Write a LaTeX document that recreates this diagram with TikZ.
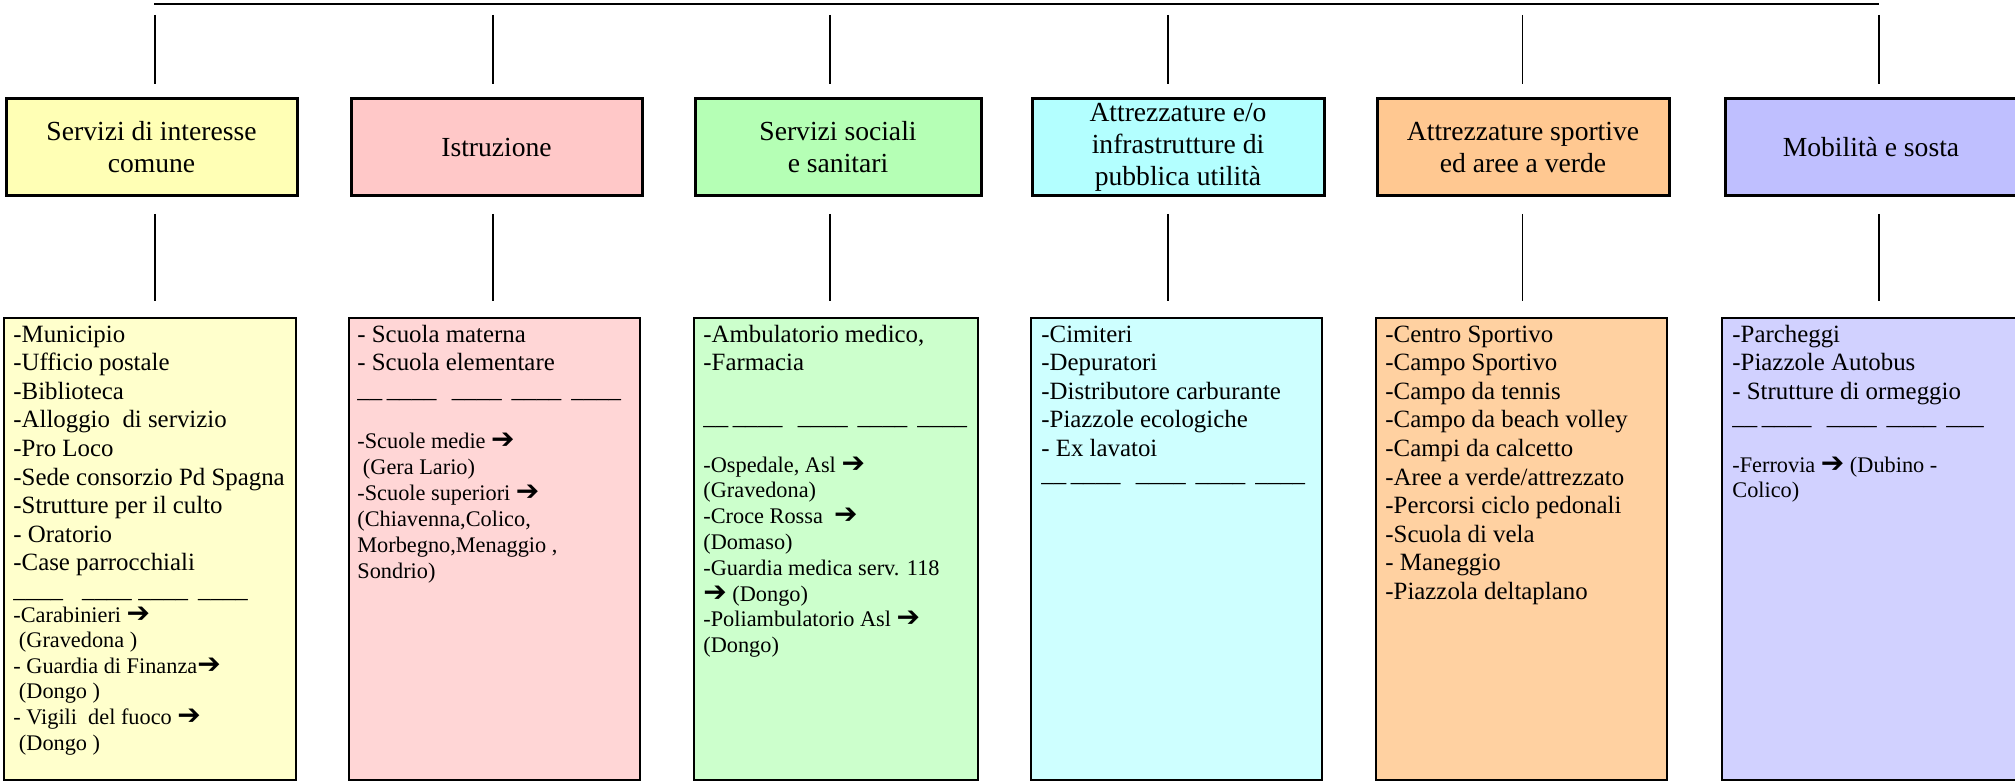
\documentclass[tikz,border=0pt]{standalone}
\usepackage{fontspec}
\setmainfont{Liberation Serif}
\newfontfamily\arrowfont{DejaVu Sans}
\newcommand{\rarr}{{\arrowfont\fontsize{14}{14}\selectfont\char"2794}}
\definecolor{hA}{HTML}{FFFFB5}
\definecolor{cA}{HTML}{FFFFCC}
\definecolor{hB}{HTML}{FFC8C8}
\definecolor{cB}{HTML}{FFD6D6}
\definecolor{hC}{HTML}{B5FFB5}
\definecolor{cC}{HTML}{CCFFCC}
\definecolor{hD}{HTML}{B3FFFF}
\definecolor{cD}{HTML}{CEFFFF}
\definecolor{hE}{HTML}{FFC891}
\definecolor{cE}{HTML}{FFD1A1}
\definecolor{hF}{HTML}{BFBFFF}
\definecolor{cF}{HTML}{D1D1FF}
\newcommand{\usline}{\_\_\hspace{2.25pt}\_\_\_\_\hspace{7.75pt}\_\_\_\_\hspace{5pt}\_\_\_\_\hspace{5pt}\_\_\_\_}
\begin{document}
\begin{tikzpicture}[x=0.5pt,y=-0.5pt,
  hdr/.style={draw=black,line width=1.5pt,inner sep=0pt,minimum height=48.5pt,align=center,font=\fontsize{13.8}{16}\selectfont},
  cbox/.style={draw=black,line width=1.3pt,inner sep=0pt,minimum height=231pt},
  ct/.style={anchor=base west,inner sep=0pt,font=\fontsize{12.43}{14.3}\selectfont},
  cs/.style={anchor=base west,inner sep=0pt,font=\fontsize{11.15}{12.8}\selectfont},
  conn/.style={line width=1pt},
  connthin/.style={line width=0.5pt}]
\useasboundingbox (0,0) rectangle (2015,781);

% top bar
\coordinate (barL) at (154,4);
\coordinate (barR) at (1879,4);
\draw[conn] (barL) -- (barR);

% header boxes
\node[hdr,fill=hA,minimum width=145.5pt] (h1) at (151.5,147.5) {Servizi di interesse\\comune};
\node[hdr,fill=hB,minimum width=145.5pt] (h2) at (496.5,147.5) {Istruzione};
\node[hdr,fill=hC,minimum width=143pt] (h3) at (838,147.5) {Servizi sociali\\e sanitari};
\node[hdr,fill=hD,minimum width=146pt] (h4) at (1178,147.5) {Attrezzature e/o\\infrastrutture di\\pubblica utilità};
\node[hdr,fill=hE,minimum width=146pt] (h5) at (1523,147.5) {Attrezzature sportive\\ed aree a verde};
\node[hdr,fill=hF,minimum width=146pt] (h6) at (1871,147.5) {Mobilità e sosta};

% content boxes
\node[cbox,fill=cA,minimum width=146pt] (c1) at (150,549) {};
\node[cbox,fill=cB,minimum width=145.5pt] (c2) at (494.5,549) {};
\node[cbox,fill=cC,minimum width=142pt] (c3) at (836,549) {};
\node[cbox,fill=cD,minimum width=145.5pt] (c4) at (1176.5,549) {};
\node[cbox,fill=cE,minimum width=145.5pt] (c5) at (1521.5,549) {};
\node[cbox,fill=cF,minimum width=147pt] (c6) at (1869,549) {};

% vertical connectors
\foreach \k/\xx/\st in {1/155/conn,2/493/conn,3/830/conn,4/1168/conn,5/1522/connthin,6/1879/conn}{
  \coordinate (ut\k) at (\xx,15);
  \coordinate (ub\k) at (\xx,84);
  \coordinate (lt\k) at (\xx,214);
  \coordinate (lb\k) at (\xx,301);
  \draw[\st] (ut\k) -- (ub\k);
  \draw[\st] (lt\k) -- (lb\k);
}

% box 1 text
\foreach \t [count=\i from 0] in {-Municipio,-Ufficio postale,-Biblioteca,-Alloggio\ \ di servizio,-Pro Loco,-Sede consorzio Pd Spagna,-Strutture per il culto,- Oratorio,-Case parrocchiali}
  \node[ct] (ta\i) at (13,342+28.6*\i) {\t};
\node[ct] (tau) at (13,597) {\_\_\_\_\hspace{9.5pt}\_\_\_\_\hspace{3.3pt}\_\_\_\_\hspace{5pt}\_\_\_\_};
\foreach \t [count=\i from 0] in {-Carabinieri \rarr,\ (Gravedona ),- Guardia di Finanza\rarr,\ (Dongo ),- Vigili\ \ del fuoco \rarr,\ (Dongo )}
  \node[cs] (tas\i) at (13,622+25.6*\i) {\t};

% box 2 text
\foreach \t [count=\i from 0] in {- Scuola materna,- Scuola elementare}
  \node[ct] (tb\i) at (357,342+28.6*\i) {\t};
\node[ct] (tbu) at (357,397) {\usline};
\foreach \t [count=\i from 0] in {-Scuole medie \rarr,\ (Gera Lario),-Scuole superiori \rarr,{(Chiavenna,Colico,},{Morbegno,Menaggio ,},Sondrio)}
  \node[cs] (tbs\i) at (357,448+26*\i) {\t};

% box 3 text
\foreach \t [count=\i from 0] in {{-Ambulatorio medico,},-Farmacia}
  \node[ct] (tc\i) at (703,342+28.6*\i) {\t};
\node[ct] (tcu) at (703,424) {\usline};
\foreach \t [count=\i from 0] in {{-Ospedale, Asl \rarr},(Gravedona),-Croce Rossa\ \ \rarr,(Domaso),-Guardia medica serv. 118,\rarr\ (Dongo),-Poliambulatorio Asl \rarr,(Dongo)}
  \node[cs] (tcs\i) at (703,472+25.8*\i) {\t};

% box 4 text
\foreach \t [count=\i from 0] in {-Cimiteri,-Depuratori,-Distributore carburante,-Piazzole ecologiche,- Ex lavatoi}
  \node[ct] (td\i) at (1041,342+28.6*\i) {\t};
\node[ct] (tdu) at (1041,481) {\usline};

% box 5 text
\foreach \t [count=\i from 0] in {-Centro Sportivo,-Campo Sportivo,-Campo da tennis,-Campo da beach volley,-Campi da calcetto,-Aree a verde/attrezzato,-Percorsi ciclo pedonali,-Scuola di vela,- Maneggio,-Piazzola deltaplano}
  \node[ct] (te\i) at (1385,342+28.6*\i) {\t};

% box 6 text
\foreach \t [count=\i from 0] in {-Parcheggi,-Piazzole Autobus,- Strutture di ormeggio}
  \node[ct] (tf\i) at (1732,342+28.6*\i) {\t};
\node[ct] (tfu) at (1732,424) {\_\_\hspace{2.25pt}\_\_\_\_\hspace{7.75pt}\_\_\_\_\hspace{5pt}\_\_\_\_\hspace{5pt}\_\_\_};
\node[cs] (tfs0) at (1732,472) {-Ferrovia \rarr\ (Dubino -};
\node[cs] (tfs1) at (1732,497) {Colico)};
\end{tikzpicture}
\end{document}
